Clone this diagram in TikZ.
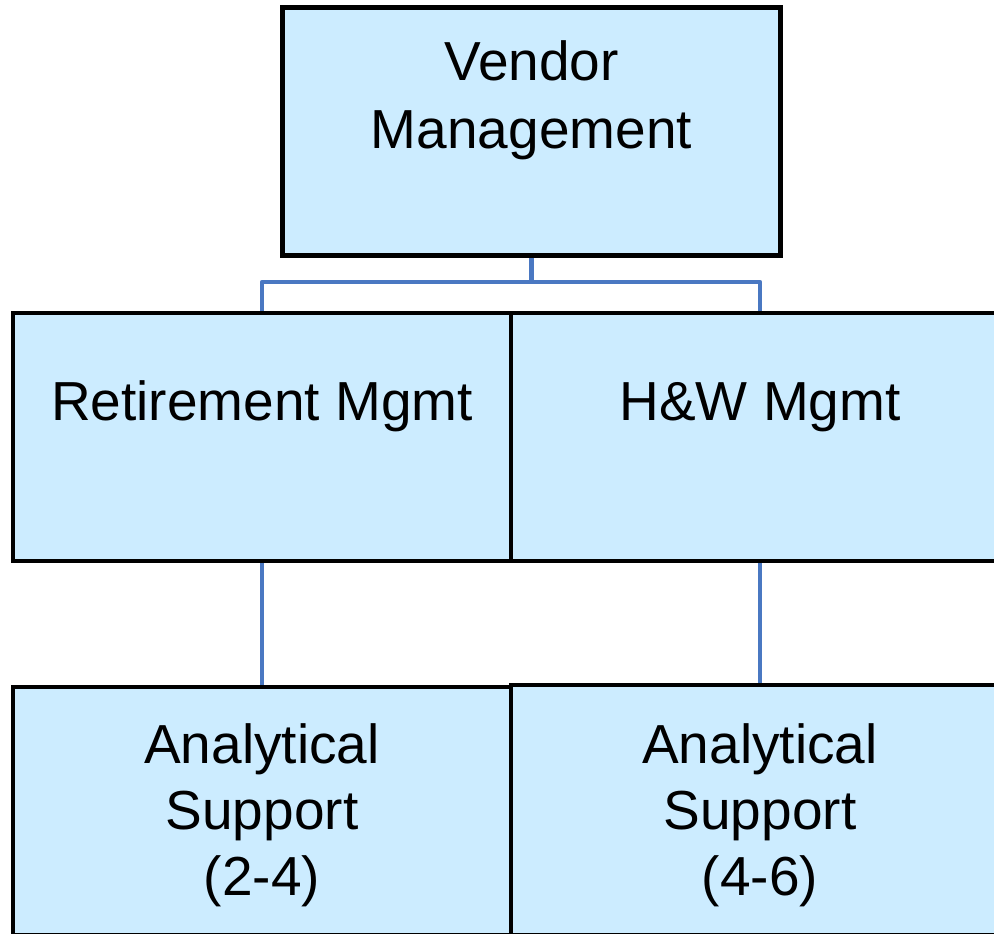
\documentclass[tikz,border=0pt]{standalone}
\usepackage{fontspec}
\setmainfont{Liberation Sans}
\definecolor{boxfill}{HTML}{CCECFF}
\definecolor{connblue}{HTML}{4A78C2}
\tikzset{
  orgbox/.style={draw=black, fill=boxfill, line width=4.6pt, rectangle, minimum width=498pt, inner sep=0pt, line join=miter},
  conn/.style={draw=connblue, line width=4.6pt, line join=round},
  lbl/.style={anchor=base, inner sep=0pt, font=\fontsize{55}{68}\selectfont},
  lblb/.style={lbl, font=\fontsize{55}{66}\selectfont},
}
\begin{document}
\begin{tikzpicture}[x=1pt,y=-1pt]
\clip (0,0) rectangle (994,934);
\fill[white] (0,0) rectangle (994,934);
% boxes
\node[orgbox, minimum height=248.5pt] (vm) at (531.5,131.5) {};
\node[orgbox, minimum height=248pt] (rm) at (262,437) {};
\node[orgbox, minimum height=248pt] (hw) at (760,437) {};
\node[orgbox, minimum height=248pt] (ra) at (262,811) {};
\node[orgbox, minimum height=250pt] (ha) at (760,810) {};
% texts
\node[lbl] (vmt) at (531.5,81) {\begin{tabular}[t]{@{}c@{}}Vendor\\Management\end{tabular}};
\node[lbl] (rmt) at (262,420) {Retirement Mgmt};
\node[lbl] (hwt) at (760,420) {H\&W Mgmt};
\node[lblb] (rat) at (262,763) {\begin{tabular}[t]{@{}c@{}}Analytical\\Support\\(2-4)\end{tabular}};
\node[lblb] (hat) at (760,763) {\begin{tabular}[t]{@{}c@{}}Analytical\\Support\\(4-6)\end{tabular}};
% connectors
\coordinate (j) at (531.5,282);
\draw[conn] (vm.south) -- (j);
\draw[conn] (rm.north) |- (j) -| (hw.north);
\draw[conn] (rm.south) -- (ra.north);
\draw[conn] (hw.south) -- (ha.north);
\end{tikzpicture}
\end{document}
